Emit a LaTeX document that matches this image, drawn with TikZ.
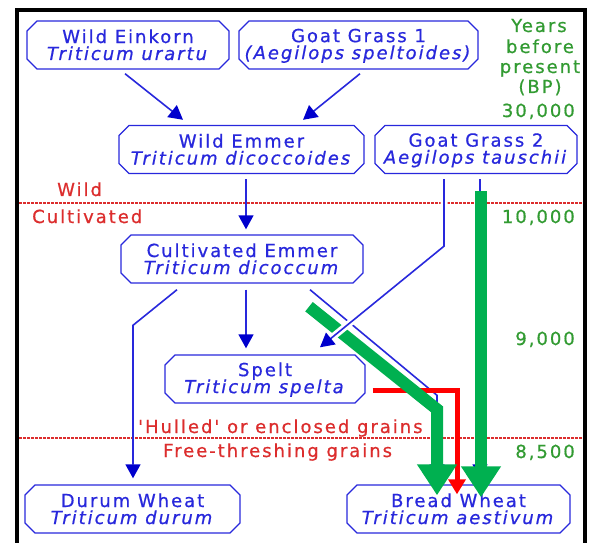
\documentclass[tikz,border=0pt]{standalone}
\usepackage{fontspec}
\setmainfont{DejaVu Sans}
\newfontfamily\dfont[LetterSpace=11,FakeBold=0.7]{DejaVu Sans}
\newcommand{\dsize}{\dfont\fontsize{18}{17}\selectfont\lineskiplimit=-6pt\relax}
\newcommand{\lone}{\rule{0pt}{15pt}}
\newcommand{\ltwo}{\rule[-2pt]{0pt}{2pt}}
\usetikzlibrary{arrows.meta,shapes.misc,calc}
\definecolor{wblue}{RGB}{40,40,220}
\definecolor{whead}{RGB}{0,0,205}
\definecolor{wred}{RGB}{220,45,45}
\definecolor{wgreen}{RGB}{0,176,80}
\definecolor{wgtext}{RGB}{50,155,50}
\begin{document}
\begin{tikzpicture}[x=1pt,y=-1pt,
  box/.style={chamfered rectangle, chamfered rectangle xsep=5pt, chamfered rectangle ysep=5pt,
    draw=wblue, line width=1.4pt, minimum height=48pt, inner sep=0pt, align=center,
    text=wblue, font=\dsize},
  barrow/.style={draw=wblue, line width=1.6pt, -{Triangle[length=14pt,width=15pt,color=whead]}},
  garrow/.style={draw=wgreen, line width=12pt, line join=miter, -{Triangle[length=31pt,width=38pt]}},
  rarrow/.style={draw=red, line width=5pt, line join=miter, -{Triangle[length=15pt,width=17pt]}},
  redtext/.style={text=wred, font=\dsize, inner sep=0pt, anchor=base west},
  greentext/.style={text=wgtext, font=\dsize, inner sep=0pt, anchor=base},
  yeartext/.style={text=wgtext, font=\dsize, inner sep=0pt, anchor=base east},
  divider/.style={draw=wred, line width=1.4pt, dash pattern=on 2.5pt off 1.5pt}]
\useasboundingbox (0,0) rectangle (590,543);
\fill[white] (0,0) rectangle (590,543);
% frame
\draw[line width=4pt] (17,545) -- (17,10) -- (585,10) -- (585,545);
% dividers
\draw[divider] (19,203) -- (583,203);
\draw[divider] (19,438) -- (583,438);
% labels
\node[redtext] (lwild) at (57,196) {Wild};
\node[redtext] (lcult) at (32,223) {Cultivated};
\node[redtext] (lhull) at (138,433) {'Hulled' or enclosed grains};
\node[redtext] (lfree) at (163,457) {Free-threshing grains};
\node[greentext] (gy1) at (539,32) {Years};
\node[greentext] (gy2) at (540,53) {before};
\node[greentext] (gy3) at (540,73) {present};
\node[greentext] (gy4) at (540,93) {(BP)};
\node[yeartext] (y30) at (575,117) {30,000};
\node[yeartext] (y10) at (575,223) {10,000};
\node[yeartext] (y9) at (575,345) {9,000};
\node[yeartext] (y85) at (575,458) {8,500};
% boxes
\node[box, minimum width=202pt] (einkorn) at (128,45) {\lone Wild Einkorn\\\textit{Triticum urartu}\ltwo};
\node[box, minimum width=239pt] (gg1) at (358.5,45) {\lone Goat Grass 1\\\textit{(Aegilops speltoides)}\ltwo};
\node[box, minimum width=245pt] (wemmer) at (241.5,149.5) {\lone Wild Emmer\\\textit{Triticum dicoccoides}\ltwo};
\node[box, minimum width=202pt] (gg2) at (476,149.5) {\lone Goat Grass 2\\\textit{Aegilops tauschii}\ltwo};
\node[box, minimum width=242pt] (cemmer) at (242,259) {\lone Cultivated Emmer\\\textit{Triticum dicoccum}\ltwo};
\node[box, minimum width=200pt] (spelt) at (265,379) {\lone Spelt\\\textit{Triticum spelta}\ltwo};
\node[box, minimum width=215pt] (durum) at (132.5,509) {\lone Durum Wheat\\\textit{Triticum durum}\ltwo};
\node[box, minimum width=223pt] (bread) at (458.5,509) {\lone Bread Wheat\\\textit{Triticum aestivum}\ltwo};
% blue connectors
\draw[barrow] ($(einkorn.south)+(-3,4)$) -- ($(wemmer.north)+(-58.5,-5)$);
\draw[barrow] ($(gg1.south)+(1.5,4)$) -- ($(wemmer.north)+(61.5,-5)$);
\draw[barrow] ($(wemmer.south)+(4.5,5)$) -- ($(cemmer.north)+(4,-5)$);
\draw[barrow] ($(cemmer.south)+(4,6)$) -- ($(spelt.north)+(-19,-6)$);
\draw[barrow] ($(cemmer.south)+(-65,6)$) -- ($(durum.north)+(0.5,-159)$) -- ($(durum.north)+(0.5,-6)$);
\draw[barrow] ($(gg2.south)+(4,5)$) -- ($(bread.north)+(21.5,-6)$);
\draw[barrow] ($(cemmer.south)+(68,6)$) -- ($(bread.north)+(-21.5,-89)$) -- ($(bread.north)+(-21.5,-6)$);
% red arrow
\draw[rarrow] ($(spelt.east)+(7,11)$) -| ($(bread.north)+(-1.5,10)$);
% green arrows
\draw[garrow] ($(gg2.south)+(5,17)$) -- ($(bread.north)+(22.5,13)$);
\draw[garrow] ($(cemmer.south)+(67,23)$) -- ($(bread.north)+(-21.5,-75)$) -- ($(bread.north)+(-21.5,11)$);
% haloed blue connector on top
\draw[barrow, preaction={draw=white, line width=7pt, -}] ($(gg2.south)+(-32,5)$) -- ($(gg2.south)+(-32,72)$) -- ($(spelt.north)+(55,-7)$);
\end{tikzpicture}
\end{document}
